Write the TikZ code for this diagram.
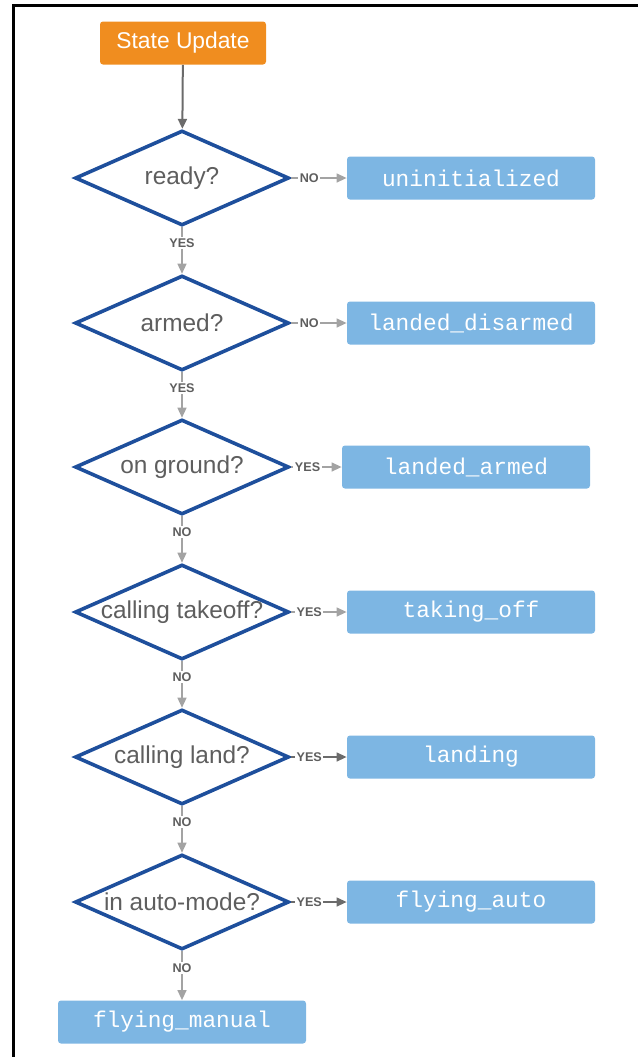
\documentclass[tikz,border=0pt]{standalone}
\usepackage{fontspec}
\setmainfont{Liberation Sans}
\setmonofont{Liberation Mono}
\usepackage{tikz}
\usetikzlibrary{arrows.meta, positioning, shapes.geometric}
\definecolor{corange}{HTML}{F08D1F}
\definecolor{cbox}{HTML}{7DB6E3}
\definecolor{cdark}{HTML}{1E4F9C}
\definecolor{ctext}{HTML}{5E5E5E}
\definecolor{carrow}{HTML}{A3A3A3}
\definecolor{cdarkarrow}{HTML}{6B6B6B}

\begin{document}
\begin{tikzpicture}[x=0.5pt, y=-0.5pt,
  startbox/.style={fill=corange, rounded corners=1.5pt, minimum width=83pt, minimum height=21.5pt, inner sep=0pt, text=white, font=\fontsize{11.4}{13}\selectfont},
  statebox/.style={fill=cbox, rounded corners=1.5pt, minimum width=124pt, minimum height=21.5pt, inner sep=0pt, text=white, font=\ttfamily\fontsize{11.4}{13}\selectfont},
  decision/.style={diamond, draw=cdark, line width=1.8pt, fill=white, minimum width=107pt, minimum height=47.5pt, inner sep=0pt},
  qtext/.style={text=ctext, inner sep=0pt, font=\fontsize{12.2}{14}\selectfont},
  flow/.style={carrow, line width=0.7pt, -{Triangle[length=5pt, width=4.5pt]}},
  answer/.style={fill=white, inner sep=0.8pt, text=ctext, font=\bfseries\fontsize{6.3}{7}\selectfont},
]
  % Page frame
  \useasboundingbox (0,0) rectangle (638,1057);
  \draw[line width=1.5pt] (638,5) -- (13,5) -- (13,1057);

  % Start
  \node[startbox] (start) at (183,43) {State Update};

  % Decisions
  \foreach \name/\y/\txt in {ready/178/ready?, armed/323/armed?, ground/467/on ground?,
      takeoff/612/calling takeoff?, land/757/calling land?, auto/902/in auto-mode?}{
    \node[decision, label={[qtext]center:\txt}] (\name) at (182,\y) {};
  }

  % States
  \node[statebox] (uninit) at (471,178) {uninitialized};
  \node[statebox] (disarmed) at (471,323) {landed\_disarmed};
  \node[statebox] (armedst) at (466,467) {landed\_armed};
  \node[statebox] (takingoff) at (471,612) {taking\_off};
  \node[statebox] (landing) at (471,757) {landing};
  \node[statebox] (flyauto) at (471,902) {flying\_auto};
  \node[statebox] (flymanual) at (182,1022) {flying\_manual};

  % Down the chain
  \draw[flow, cdarkarrow, line width=1pt] (start) -- (ready);
  \draw[flow] (ready) -- node[answer, pos=0.34] {YES} (armed);
  \draw[flow] (armed) -- node[answer, pos=0.34] {YES} (ground);
  \draw[flow] (ground) -- node[answer, pos=0.34] {NO} (takeoff);
  \draw[flow] (takeoff) -- node[answer, pos=0.34] {NO} (land);
  \draw[flow] (land) -- node[answer, pos=0.34] {NO} (auto);
  \draw[flow] (auto) -- node[answer, pos=0.34] {NO} (flymanual);

  % Out to the states
  \draw[flow] (ready) -- node[answer, pos=0.33] {NO} (uninit);
  \draw[flow] (armed) -- node[answer, pos=0.33] {NO} (disarmed);
  \draw[flow] (ground) -- node[answer, pos=0.33] {YES} (armedst);
  \draw[flow] (takeoff) -- node[answer, pos=0.33] {YES} (takingoff);
  \draw[flow, cdarkarrow] (land) -- node[answer, pos=0.33] {YES} (landing);
  \draw[flow, cdarkarrow] (auto) -- node[answer, pos=0.33] {YES} (flyauto);
\end{tikzpicture}
\end{document}
